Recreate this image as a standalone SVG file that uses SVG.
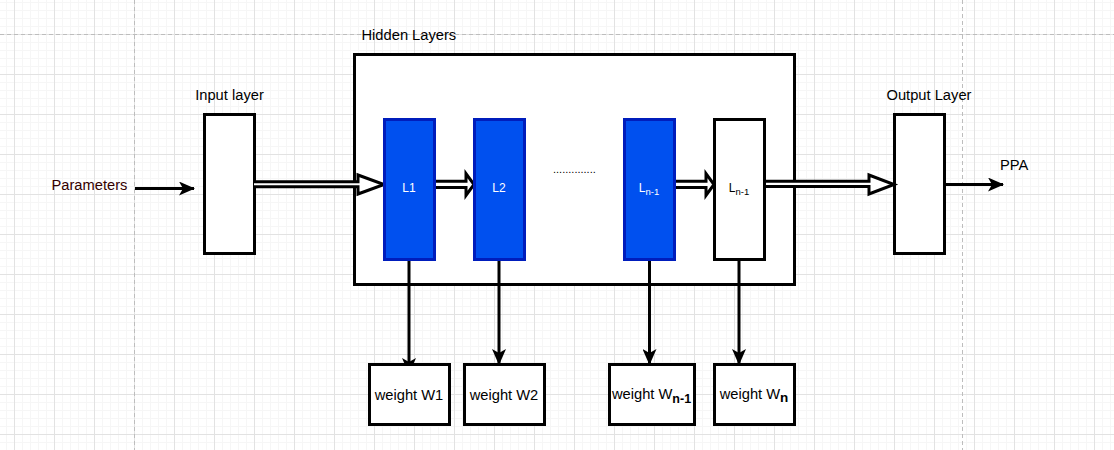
<svg xmlns="http://www.w3.org/2000/svg" width="1114" height="450" viewBox="0 0 1114 450">
  <defs>
    <pattern id="grid" patternUnits="userSpaceOnUse" x="14" y="34" width="40" height="40">
      <path d="M8.5 0V40M16.5 0V40M24.5 0V40M32.5 0V40M0 8.5H40M0 16.5H40M0 24.5H40M0 32.5H40" stroke="#f6f6f6" stroke-width="1" fill="none"/>
      <path d="M0.5 0V40M0 0.5H40" stroke="#e2e2e2" stroke-width="1" fill="none"/>
    </pattern>
    <marker id="head" viewBox="0 0 16 14" refX="15" refY="7" markerWidth="16" markerHeight="14" markerUnits="userSpaceOnUse" orient="auto">
      <path d="M0 0 L16 7 L0 14 L4 7 Z" fill="#000"/>
    </marker>
    <style>
      .box { fill: #fff; stroke: #000; stroke-width: 3; }
      .blue { fill: #0050ef; stroke: #001dbc; stroke-width: 3; }
      .flex { fill: #fff; stroke: #000; stroke-width: 3; stroke-linejoin: miter; }
      .line { fill: none; stroke: #000; stroke-width: 3; marker-end: url(#head); }
      .t { font-family: "Liberation Sans", Arial, sans-serif; font-size: 14.7px; fill: #000; }
      .c { text-anchor: middle; }
      .w { fill: #fff; font-size: 12px; }
      .page { stroke: #bdbdbd; stroke-width: 1; stroke-dasharray: 4 3; fill: none; }
    </style>
  </defs>

  <g id="background">
    <rect x="0" y="0" width="1114" height="450" fill="#fff"/>
    <rect x="0" y="0" width="1114" height="450" fill="url(#grid)"/>
    <path class="page" d="M134.5 0V450M962.5 0V450M0 34.5H1114"/>
  </g>

  <g id="hidden-layers">
    <rect class="box" x="354.5" y="54.5" width="440" height="230"/>
    <text class="t" x="361.5" y="40">Hidden Layers</text>
  </g>

  <g id="input-layer">
    <rect class="box" x="204.5" y="114.5" width="50" height="139"/>
    <text class="t c" x="229.5" y="100">Input layer</text>
  </g>

  <g id="output-layer">
    <rect class="box" x="894.5" y="114.5" width="50" height="139"/>
    <text class="t c" x="929" y="100">Output Layer</text>
  </g>

  <g id="parameters">
    <text class="t" x="51.5" y="190" style="fill:#330000">Parameters</text>
  </g>

  <g id="ppa">
    <text class="t" x="1000" y="170">PPA</text>
  </g>

  <g id="dots">
    <text class="t" x="553" y="173" style="font-size:11px">..............</text>
  </g>

  <g id="connectors">
    <path class="line" d="M135 188.5H194"/>
    <path class="line" d="M944 184.5H1003"/>
    <path class="line" d="M409 260V373"/>
    <path class="line" d="M499 260V364"/>
    <path class="line" d="M649.5 260V364"/>
    <path class="line" d="M739 260V364"/>
    <path class="flex" d="M254 181.7H358V175L384 184.5L358 194V186.7H254"/>
    <path class="flex" d="M434.5 181.3H466V173.5L474 184.5L466 195.5V187.5H434.5Z"/>
    <path class="flex" d="M674.5 181.3H706V173.5L714 184.5L706 195.5V187.5H674.5Z"/>
    <path class="flex" d="M765 181.3H869V175L894 184.5L869 194V186.5H765"/>
  </g>

  <g id="L1">
    <rect class="blue" x="384.5" y="119.5" width="50" height="140"/>
    <text class="t c w" x="409" y="192">L1</text>
  </g>

  <g id="L2">
    <rect class="blue" x="474.5" y="119.5" width="50" height="140"/>
    <text class="t c w" x="499" y="192">L2</text>
  </g>

  <g id="Ln-1-blue">
    <rect class="blue" x="624.5" y="119.5" width="50" height="140"/>
    <text class="t c w" x="649" y="192">L<tspan dy="3" font-size="9.5px">n-1</tspan></text>
  </g>

  <g id="Ln-1-white">
    <rect class="box" x="714.5" y="119.5" width="50" height="140"/>
    <text class="t c" x="739" y="192" style="font-size:12px">L<tspan dy="3" font-size="9.5px">n-1</tspan></text>
  </g>

  <g id="weight-w1">
    <rect class="box" x="369.5" y="364.5" width="80" height="60"/>
    <text class="t c" x="409" y="400">weight W1</text>
  </g>

  <g id="weight-w2">
    <rect class="box" x="464.5" y="364.5" width="80" height="60"/>
    <text class="t c" x="504" y="400">weight W2</text>
  </g>

  <g id="weight-wn-1">
    <rect class="box" x="609.5" y="364.5" width="85" height="60"/>
    <text class="t c" x="651.5" y="398.5">weight W<tspan dy="4" font-size="12.5px" font-weight="bold">n-1</tspan></text>
  </g>

  <g id="weight-wn">
    <rect class="box" x="714.5" y="364.5" width="80" height="60"/>
    <text class="t c" x="754" y="398.5">weight W<tspan dy="3" font-size="13.5px" font-weight="bold">n</tspan></text>
  </g>
</svg>
